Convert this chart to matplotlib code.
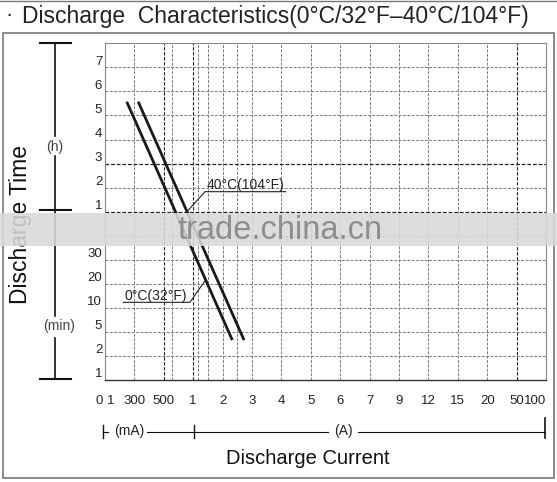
import matplotlib
matplotlib.use("Agg")
import matplotlib.pyplot as plt
from matplotlib.lines import Line2D
from matplotlib.patches import Rectangle

plt.rcParams['font.family'] = ['Liberation Sans', 'DejaVu Sans']

W, H = 557, 482

# x axis: evenly spaced (non-linear) current marks
x_labels = ["0 1", "300", "500", "1", "2", "3", "4", "5", "6", "7", "9", "12", "15", "20", "50", "100"]
x_extra = [2.28, 3.15, 3.5, 4.5]          # unlabeled grid lines
x_dark = [2, 3, 14]

# y axis: minutes (bottom) then hours (top)
y_labels = ["1", "2", "5", "10", "20", "30", "", "1", "2", "3", "4", "5", "6", "7"]
y_dark = [7, 9]

# discharge curves (grid units)
cold_x = [0.74, 4.33]    # 0C (32F)
cold_y = [11.57, 1.66]
hot_x = [1.13, 4.73]     # 40C (104F)
hot_y = [11.57, 1.66]


def fx(x):
    return x / W


def fy(y):
    return 1 - y / H


def fline(xs, ys, lw=1.2, color='#111111'):
    fig.add_artist(Line2D([fx(v) for v in xs], [fy(v) for v in ys],
                          transform=fig.transFigure, lw=lw, color=color))


fig = plt.figure(figsize=(W / 100, H / 100), dpi=100)
ax = fig.add_axes([fx(105), fy(380), fx(546) - fx(105), fy(43.3) - fy(380)])

nx = len(x_labels) - 1
ny = len(y_labels)
ax.set_xlim(0, nx)
ax.set_ylim(0, ny)

for i in list(range(1, nx)) + x_extra:
    dark = i in x_dark
    ax.axvline(i, color='#222222' if dark else '#7a7a7a', lw=0.8 if dark else 0.7,
               ls=(0, (3, 1.5)), zorder=1)
for j in range(1, ny):
    dark = j in y_dark
    ax.axhline(j, color='#222222' if dark else '#7a7a7a', lw=0.9 if dark else 0.7,
               ls=(0, (3, 1.5)), zorder=1)

for s in ['top', 'left', 'right']:
    ax.spines[s].set_color('#888888')
    ax.spines[s].set_linewidth(0.8)
ax.spines['bottom'].set_color('#333333')
ax.spines['bottom'].set_linewidth(1.0)

ax.set_xticks(range(nx + 1))
ax.set_xticklabels(x_labels, fontsize=9.5, color='#222222')
ax.tick_params(axis='x', length=0, pad=11)
ax.get_xticklabels()[-1].set_horizontalalignment('right')
ax.set_yticks([])

for j, lab in enumerate(y_labels):
    ax.annotate(lab, xy=(0, j), xycoords=('axes fraction', 'data'),
                xytext=(-2, 2), textcoords='offset points',
                ha='right', va='baseline', fontsize=9.5, color='#222222')

ax.plot(cold_x, cold_y, color='#1a1a1a', lw=2.0, solid_capstyle='butt', zorder=3)
ax.plot(hot_x, hot_y, color='#1a1a1a', lw=2.0, solid_capstyle='butt', zorder=3)

# curve labels with leaders
ax.text(3.46, 7.95, "40°C(104°F)", fontsize=10, color='#222222', va='baseline')
ax.plot([2.79, 3.4, 6.15], [7.0, 7.83, 7.83], color='#222222', lw=0.8, zorder=3)
ax.text(0.68, 3.34, "0°C(32°F)", fontsize=10, color='#222222', va='baseline')
ax.plot([0.62, 2.89, 3.42], [3.23, 3.23, 4.16], color='#222222', lw=0.8, zorder=3)

# title and frame
fig.text(fx(5), fy(16), "·", fontsize=16, va='center', ha='left', color='#222222')
fig.text(fx(22), fy(16), "Discharge  Characteristics(0°C/32°F–40°C/104°F)",
         fontsize=16.5, va='center', ha='left', color='#222222')
fline([0, W], [0.5, 0.5], lw=1.0, color='#777777')
fig.add_artist(Rectangle((fx(3), fy(478)), fx(554) - fx(3), fy(33) - fy(478),
                         transform=fig.transFigure, fill=False, ec='#777777', lw=1.2))

# left time scale bracket
fline([55, 55], [42.7, 136])
fline([55, 55], [156, 316])
fline([55, 55], [338, 379])
for yy in [42.7, 210, 379]:
    fline([40, 71], [yy, yy], lw=1.5)
fig.text(fx(55), fy(146.5), "(h)", fontsize=10, ha='center', va='center', color='#444444')
fig.text(fx(59), fy(326), "(min)", fontsize=10, ha='center', va='center', color='#444444')
fig.text(fx(21), fy(225), "Discharge Time", fontsize=16.5, rotation=90,
         ha='center', va='center', color='#111111')

# bottom current scale bracket
yb = 431.5
fline([103.3, 103.3], [425, 437.5], lw=1.0)
fline([103.3, 108], [yb, yb], lw=0.8)
fig.text(fx(129), fy(yb), "(mA)", fontsize=10, ha='center', va='center', color='#222222')
fline([146.7, 328], [yb, yb], lw=0.8)
fline([194, 194], [425, 437.5], lw=1.0)
fig.text(fx(343), fy(yb), "(A)", fontsize=10, ha='center', va='center', color='#222222')
fline([358, 545], [yb, yb], lw=0.8)
fline([545, 545], [418, 437.5], lw=1.2)
fig.text(fx(308), fy(459), "Discharge Current", fontsize=14.5, ha='center', va='center',
         color='#111111')

# watermark band
fig.add_artist(Rectangle((0, fy(246)), 1, fy(213) - fy(246), transform=fig.transFigure,
                         color='#d9d9d9', alpha=0.88, lw=0, zorder=10))
fig.text(fx(280), fy(230), "trade.china.cn", fontsize=23.5, ha='center', va='center',
         color='#8e8e8e', zorder=11)

fig.savefig("out.png", dpi=100)
